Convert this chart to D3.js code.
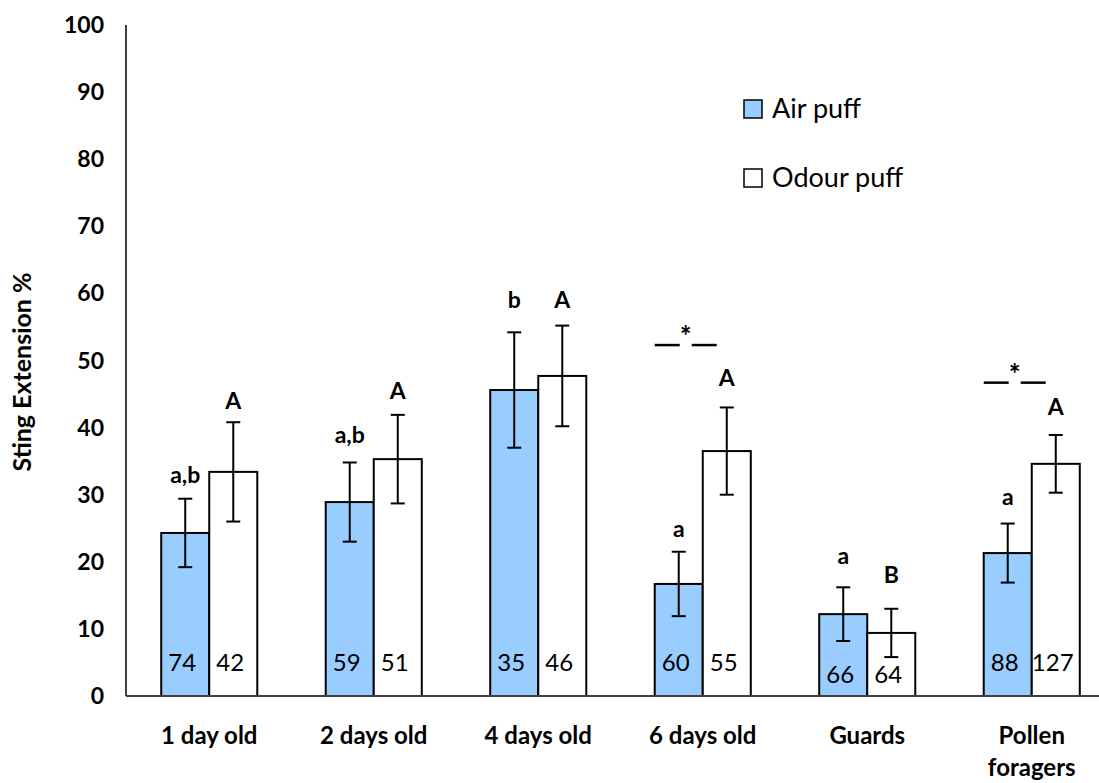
<!DOCTYPE html>
<html>
<head>
<meta charset="utf-8">
<script src="https://cdn.jsdelivr.net/npm/d3@7"></script>
<style>
  body { margin: 0; background: #fff; }
  text { font-family: Lato, "Open Sans", sans-serif; fill: #000; }
</style>
</head>
<body>
<div id="chart"></div>
<script>
// data
const categories = ["1 day old", "2 days old", "4 days old", "6 days old", "Guards", "Pollen foragers"]
const airMean = [24.3, 28.9, 45.6, 16.7, 12.2, 21.3]
const airErr = [5.1, 5.9, 8.6, 4.8, 4.0, 4.4]
const odourMean = [33.4, 35.3, 47.7, 36.5, 9.4, 34.6]
const odourErr = [7.4, 6.6, 7.5, 6.5, 3.6, 4.3]
const airN = [74, 59, 35, 60, 66, 88]
const odourN = [42, 51, 46, 55, 64, 127]
const airLetters = ["a,b", "a,b", "b", "a", "a", "a"]
const odourLetters = ["A", "A", "A", "A", "B", "A"]
const airLetterAt = [32.9, 38.9, 59.0, 24.9, 20.8, 29.7]
const odourLetterAt = [43.9, 45.4, 59.0, 47.4, 18.0, 43.1]
const sigGroups = ["6 days old", "Pollen foragers"]
const sigAt = [52.3, 46.7]
const yTicks = [0, 10, 20, 30, 40, 50, 60, 70, 80, 90, 100]

const width = 1099, height = 783

const svg = d3.select("#chart").append("svg")
    .attr("width", width)
    .attr("height", height)

const y = d3.scaleLinear().domain([0, 100]).range([696, 25])

const x0 = d3.scaleBand()
    .domain(categories)
    .range([127, 1114])
    .paddingInner(0.416)
    .paddingOuter(0.208)

const x1 = d3.scaleBand()
    .domain(["air", "odour"])
    .range([0, x0.bandwidth()])

const rows = categories.map((c, i) => ({
    cat: c,
    bars: [
        {key: "air", v: airMean[i], e: airErr[i], n: airN[i], letter: airLetters[i], at: airLetterAt[i]},
        {key: "odour", v: odourMean[i], e: odourErr[i], n: odourN[i], letter: odourLetters[i], at: odourLetterAt[i]}
    ]
}))

const fill = {air: "#99ccff", odour: "#ffffff"}

// y axis
svg.append("line")
    .attr("x1", 126).attr("x2", 126)
    .attr("y1", y(100)).attr("y2", y(0))
    .attr("stroke", "#404040").attr("stroke-width", 2)

svg.selectAll(".ytick")
    .data(yTicks)
    .join("text")
    .attr("class", "ytick")
    .attr("x", 104)
    .attr("y", d => y(d))
    .attr("dy", "0.35em")
    .attr("text-anchor", "end")
    .style("font-size", "23px")
    .style("font-weight", "bold")
    .text(d => d)

svg.append("text")
    .attr("transform", "translate(31,372) rotate(-90)")
    .attr("text-anchor", "middle")
    .style("font-size", "25px")
    .style("font-weight", "bold")
    .text("Sting Extension %")

// bars
const groups = svg.selectAll(".group")
    .data(rows)
    .join("g")
    .attr("class", "group")
    .attr("transform", d => `translate(${x0(d.cat)},0)`)

groups.selectAll("rect")
    .data(d => d.bars)
    .join("rect")
    .attr("x", d => x1(d.key))
    .attr("width", x1.bandwidth())
    .attr("y", d => y(d.v))
    .attr("height", d => y(0) - y(d.v))
    .attr("fill", d => fill[d.key])
    .attr("stroke", "#000")
    .attr("stroke-width", 2)

// error bars
const eb = groups.selectAll(".err")
    .data(d => d.bars)
    .join("g")
    .attr("class", "err")
    .attr("stroke", "#000")
    .attr("stroke-width", 2)

eb.append("line")
    .attr("x1", d => x1(d.key) + x1.bandwidth() / 2)
    .attr("x2", d => x1(d.key) + x1.bandwidth() / 2)
    .attr("y1", d => y(d.v + d.e))
    .attr("y2", d => y(d.v - d.e))
eb.append("line")
    .attr("x1", d => x1(d.key) + x1.bandwidth() / 2 - 7)
    .attr("x2", d => x1(d.key) + x1.bandwidth() / 2 + 7)
    .attr("y1", d => y(d.v + d.e))
    .attr("y2", d => y(d.v + d.e))
eb.append("line")
    .attr("x1", d => x1(d.key) + x1.bandwidth() / 2 - 7)
    .attr("x2", d => x1(d.key) + x1.bandwidth() / 2 + 7)
    .attr("y1", d => y(d.v - d.e))
    .attr("y2", d => y(d.v - d.e))

// n inside base
groups.selectAll(".nlab")
    .data(d => d.bars)
    .join("text")
    .attr("class", "nlab")
    .attr("x", d => x1(d.key) + x1.bandwidth() / 2 - 3)
    .attr("y", d => d.v < 15 ? y(0) - 21 : y(0) - 33)
    .attr("dy", "0.35em")
    .attr("text-anchor", "middle")
    .style("font-size", "24px")
    .text(d => d.n)

// letters
groups.selectAll(".letter")
    .data(d => d.bars)
    .join("text")
    .attr("class", "letter")
    .attr("x", d => x1(d.key) + x1.bandwidth() / 2)
    .attr("y", d => y(d.at))
    .attr("dy", "0.35em")
    .attr("text-anchor", "middle")
    .style("font-size", "23px")
    .style("font-weight", "bold")
    .text(d => d.letter)

// significance marks
sigGroups.forEach((g, i) => {
    const left = x0(g)
    const yy = y(sigAt[i])
    svg.append("line")
        .attr("x1", left).attr("x2", left + 25)
        .attr("y1", yy).attr("y2", yy)
        .attr("stroke", "#000").attr("stroke-width", 2.5)
    svg.append("line")
        .attr("x1", left + 37).attr("x2", left + 62)
        .attr("y1", yy).attr("y2", yy)
        .attr("stroke", "#000").attr("stroke-width", 2.5)
    svg.append("text")
        .attr("x", left + 31)
        .attr("y", yy + 1)
        .attr("text-anchor", "middle")
        .style("font-size", "28px")
        .style("font-weight", "bold")
        .text("*")
})

// x axis
svg.append("line")
    .attr("x1", 126).attr("x2", width)
    .attr("y1", y(0)).attr("y2", y(0))
    .attr("stroke", "#404040").attr("stroke-width", 2)

svg.selectAll(".xlab")
    .data(categories)
    .join("text")
    .attr("class", "xlab")
    .attr("x", d => x0(d) + x0.bandwidth() / 2)
    .attr("y", 736)
    .attr("text-anchor", "middle")
    .style("font-size", "24px")
    .style("font-weight", "bold")
    .each(function(d) {
        const words = d == "Pollen foragers" ? ["Pollen", "foragers"] : [d]
        d3.select(this).selectAll("tspan")
            .data(words)
            .join("tspan")
            .attr("x", x0(d) + x0.bandwidth() / 2)
            .attr("dy", (w, j) => j == 0 ? "0.35em" : "1.3em")
            .text(w => w)
    })

// legend
const legendItems = [{key: "air", label: "Air puff"}, {key: "odour", label: "Odour puff"}]
const legend = svg.selectAll(".legend")
    .data(legendItems)
    .join("g")
    .attr("class", "legend")
    .attr("transform", (d, i) => `translate(744,${109 + i * 69})`)

legend.append("rect")
    .attr("x", 0).attr("y", -9)
    .attr("width", 18).attr("height", 18)
    .attr("fill", d => fill[d.key])
    .attr("stroke", "#000")
    .attr("stroke-width", 1.5)

legend.append("text")
    .attr("x", 28)
    .attr("dy", "0.35em")
    .style("font-size", "27px")
    .text(d => d.label)
</script>
</body>
</html>
